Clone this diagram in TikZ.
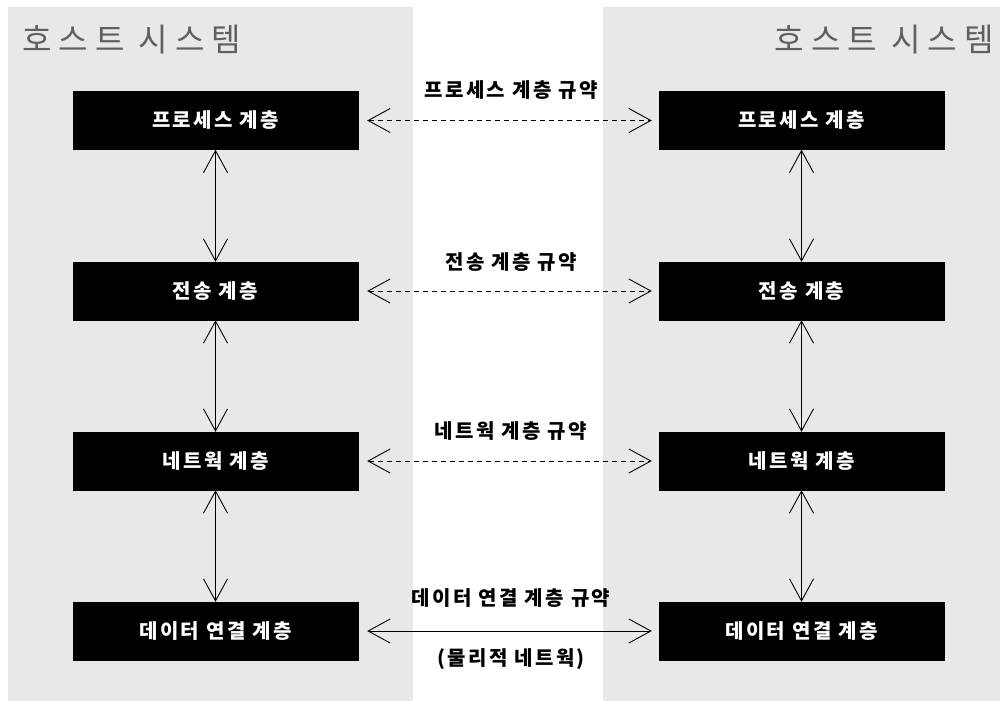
\documentclass[tikz,border=0pt]{standalone}
\usepackage{fontspec}
\newfontfamily\kr{Noto Sans CJK KR}
\newfontfamily\krbox[LetterSpace=12]{Noto Sans CJK KR}
\newfontfamily\krttl[LetterSpace=22]{Noto Sans CJK KR}
\usetikzlibrary{arrows.meta}
\definecolor{panel}{RGB}{232,232,232}
\definecolor{titlegray}{RGB}{95,95,95}
\tikzset{
  layer/.style={fill=black, draw=black, text=white, minimum width=285pt, minimum height=58pt, inner sep=0pt, font=\krbox\fontsize{20}{22}\selectfont\bfseries},
  lbl/.style={text=black, inner sep=0pt, font=\krbox\fontsize{20}{22}\selectfont\bfseries},
  ttl/.style={text=titlegray, inner sep=0pt, font=\krttl\fontsize{32}{36}\selectfont},
  barb/.style={line width=0.9pt, {Straight Barb[length=22pt,width=24pt,line width=0.9pt]}-{Straight Barb[length=22pt,width=24pt,line width=0.9pt]}},
  dsh/.style={dash pattern=on 5pt off 4pt}
}
\begin{document}
\begin{tikzpicture}[x=1pt,y=-1pt]
\useasboundingbox (0,0) rectangle (1000,704);
\fill[white] (0,0) rectangle (1000,704);
\fill[panel] (8,7) rectangle (413,701);
\fill[panel] (603,7) rectangle (1000,701);
\node[ttl, anchor=west] (tl) at (22,40) {호스트 시스템};
\node[ttl, anchor=east] (tr) at (994,40) {호스트 시스템};
% left boxes
\node[layer] (l1) at (215.5,120.5) {프로세스 계층};
\node[layer] (l2) at (215.5,291) {전송 계층};
\node[layer] (l3) at (215.5,461) {네트웍 계층};
\node[layer] (l4) at (215.5,631) {데이터 연결 계층};
% right boxes
\node[layer] (r1) at (801.5,120.5) {프로세스 계층};
\node[layer] (r2) at (801.5,291) {전송 계층};
\node[layer] (r3) at (801.5,461) {네트웍 계층};
\node[layer] (r4) at (801.5,631) {데이터 연결 계층};
% vertical arrows
\draw[barb] (l1.south) -- (l2.north);
\draw[barb] (l2.south) -- (l3.north);
\draw[barb] (l3.south) -- (l4.north);
\draw[barb] (r1.south) -- (r2.north);
\draw[barb] (r2.south) -- (r3.north);
\draw[barb] (r3.south) -- (r4.north);
% horizontal arrows
\draw[barb, dsh, shorten <=9pt, shorten >=7pt] (l1.east) -- (r1.west);
\draw[barb, dsh, shorten <=9pt, shorten >=7pt] (l2.east) -- (r2.west);
\draw[barb, dsh, shorten <=9pt, shorten >=7pt] (l3.east) -- (r3.west);
\draw[barb, shorten <=9pt, shorten >=7pt] (l4.east) -- (r4.west);
% labels
\node[lbl] (p1) at (511,90) {프로세스 계층 규약};
\node[lbl] (p2) at (511,262) {전송 계층 규약};
\node[lbl] (p3) at (511,431) {네트웍 계층 규약};
\node[lbl] (p4) at (511,598) {데이터 연결 계층 규약};
\node[lbl] (p5) at (511,659) {(물리적 네트웍)};
\end{tikzpicture}
\end{document}
